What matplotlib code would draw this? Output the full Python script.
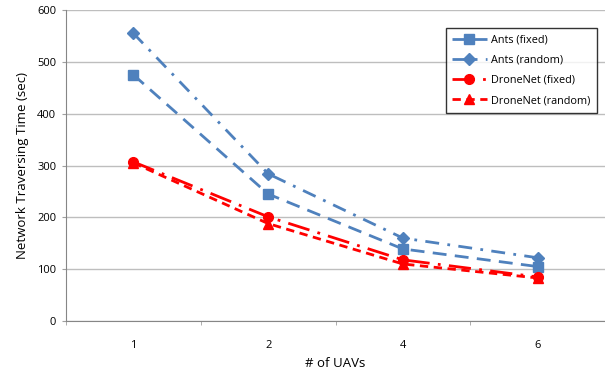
import matplotlib
matplotlib.use("Agg")
import matplotlib.pyplot as plt
import numpy as np

plt.rcParams['font.family'] = ['Open Sans', 'DejaVu Sans']

categories = ['1', '2', '4', '6']
ants_fixed = [475, 245, 139, 105]
ants_random = [555, 284, 160, 122]
drone_fixed = [307, 201, 118, 85]
drone_random = [305, 188, 110, 83]

blue = '#4F81BD'
red = '#FF0000'

fig = plt.figure(figsize=(6.05, 3.70), dpi=100)
ax = fig.add_axes([66/605, 1-321/370, (605-66)/605, (321-10)/370])

x = np.arange(len(categories))
ax.plot(x, ants_fixed, color=blue, lw=2, dashes=(5, 3), marker='s', ms=7, label='Ants (fixed)')
ax.plot(x, ants_random, color=blue, lw=2, dashes=(5, 3, 1, 3), marker='D', ms=6, label='Ants (random)')
ax.plot(x, drone_fixed, color=red, lw=2, dashes=(8, 3, 1, 3), marker='o', ms=7, label='DroneNet (fixed)')
ax.plot(x, drone_random, color=red, lw=2, dashes=(3, 2), marker='^', ms=7, label='DroneNet (random)')

ax.set_xlim(-0.5, len(categories) - 0.5)
ax.set_ylim(0, 600)
ax.set_yticks(range(0, 601, 100))
ax.set_xticks(x)
ax.set_xticklabels(categories)
ax.set_xticks(np.arange(-0.5, len(categories), 1), minor=True)
ax.tick_params(axis='x', which='major', length=0, labelsize=8, pad=14)
ax.tick_params(axis='x', which='minor', length=3, color='#A0A0A0', direction='out')
ax.tick_params(axis='y', length=3, color='#A0A0A0', labelsize=8, direction='out', pad=4)
ax.grid(axis='y', color='#BEBEBE', lw=1)
ax.set_axisbelow(True)
for s in ['top', 'right']:
    ax.spines[s].set_visible(False)
for s in ['left', 'bottom']:
    ax.spines[s].set_color('#868686')

ax.set_ylabel('Network Traversing Time (sec)', fontsize=9.5, labelpad=6)
ax.set_xlabel('# of UAVs', fontsize=9.5, labelpad=4)

leg = ax.legend(loc='upper right', bbox_to_anchor=((597-66)/539, 1-(28-10)/311), borderaxespad=0,
                fontsize=7.8, frameon=True, fancybox=False, edgecolor='black', handlelength=3.2,
                borderpad=0.6, labelspacing=0.85, handletextpad=0.4)
leg.get_frame().set_linewidth(1)

fig.savefig('out.png', dpi=100)
